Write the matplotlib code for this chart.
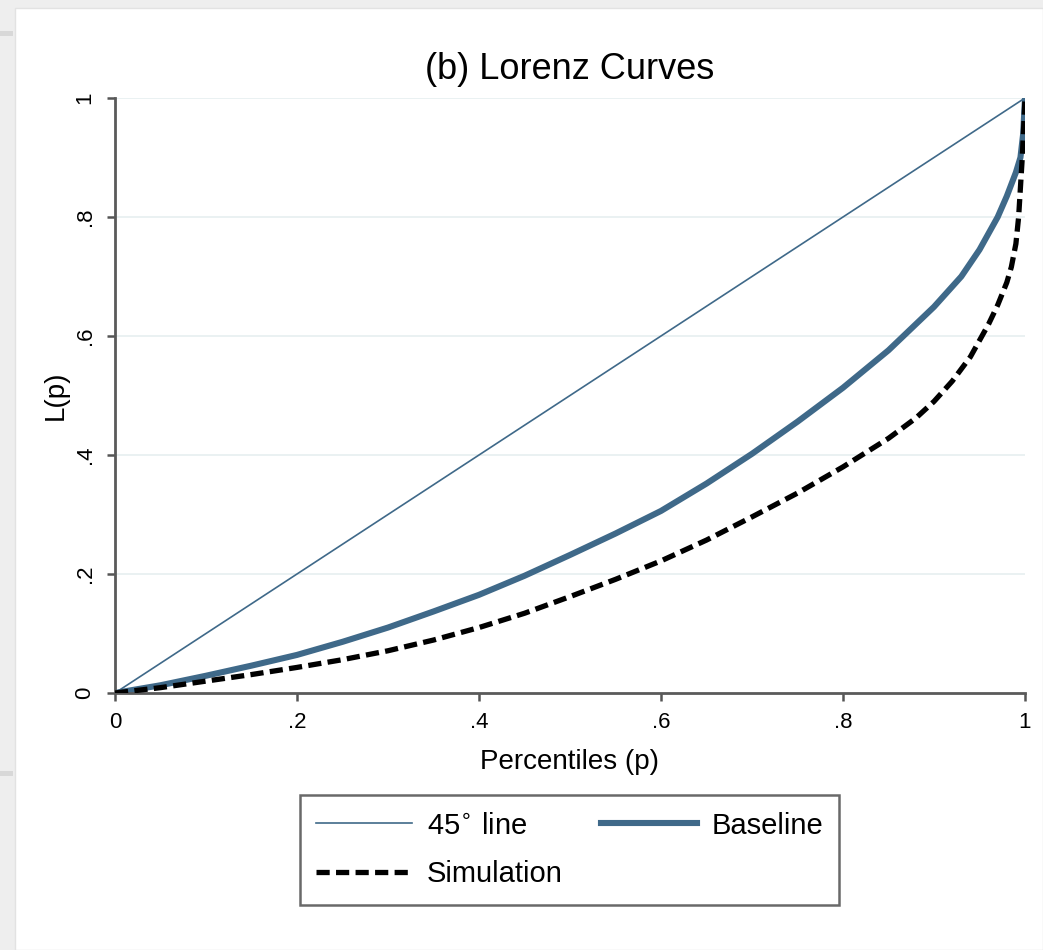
import matplotlib.pyplot as plt
import matplotlib
from matplotlib.patches import Rectangle

matplotlib.rcParams['font.family'] = ['Liberation Sans', 'DejaVu Sans']

# data
p_base = [0, 0.05, 0.1, 0.15, 0.2, 0.25, 0.3, 0.35, 0.4, 0.45, 0.5, 0.55, 0.6, 0.65, 0.7,
          0.75, 0.8, 0.85, 0.9, 0.93, 0.95, 0.97, 0.98, 0.99, 0.995, 0.998, 1.0]
L_base = [0, 0.013, 0.029, 0.046, 0.064, 0.086, 0.110, 0.137, 0.165, 0.197, 0.232, 0.268, 0.306, 0.352, 0.402,
          0.456, 0.513, 0.576, 0.649, 0.700, 0.745, 0.800, 0.835, 0.875, 0.900, 0.940, 1.0]

p_sim = [0, 0.05, 0.1, 0.15, 0.2, 0.25, 0.3, 0.35, 0.4, 0.45, 0.5, 0.55, 0.6, 0.65, 0.7, 0.75, 0.8,
         0.85, 0.88, 0.9, 0.92, 0.94, 0.96, 0.97, 0.98, 0.985, 0.99, 0.993, 0.997, 1.0]
L_sim = [0, 0.009, 0.020, 0.031, 0.043, 0.056, 0.071, 0.089, 0.110, 0.134, 0.162, 0.191, 0.222, 0.257, 0.296, 0.336, 0.380,
         0.428, 0.462, 0.490, 0.524, 0.565, 0.620, 0.652, 0.690, 0.716, 0.755, 0.800, 0.900, 1.0]

ticks = [0, 0.2, 0.4, 0.6, 0.8, 1.0]
tick_labels = ['0', '.2', '.4', '.6', '.8', '1']

blue = '#3f6989'
grid = '#e6eff0'

fig = plt.figure(figsize=(10.43, 9.5), dpi=100)
fig.patch.set_facecolor('#eeeeee')
bg = Rectangle((15/1043, 0), 1 - 15/1043, 1 - 8/950, transform=fig.transFigure,
               facecolor='white', edgecolor='#e2e2e2', lw=1, zorder=-10)
fig.patches.append(bg)
# little grey marks on the left margin
fig.patches.append(Rectangle((0, 1 - 36/950), 13/1043, 5/950, transform=fig.transFigure,
                             facecolor='#d8d8d8', edgecolor='none', zorder=-9))
fig.patches.append(Rectangle((0, 1 - 776/950), 13/1043, 5/950, transform=fig.transFigure,
                             facecolor='#d8d8d8', edgecolor='none', zorder=-9))

ax = fig.add_axes([115/1043, 1 - 693/950, 910/1043, 595/950])
ax.patch.set_alpha(0)
ax.set_xlim(0, 1)
ax.set_ylim(0, 1)

for t in ticks[1:]:
    ax.axhline(t, color=grid, lw=1.2, zorder=0)

ax.plot([0, 1], [0, 1], color=blue, lw=1.2, label='45$^{\\circ}$ line', zorder=3)
ax.plot(p_base, L_base, color=blue, lw=4.4, label='Baseline', solid_joinstyle='round', zorder=2)
ax.plot(p_sim, L_sim, color='black', lw=3.8, ls=(0, (2.5, 1.2)), label='Simulation', zorder=4)

ax.set_xticks(ticks)
ax.set_xticklabels(tick_labels)
ax.set_yticks(ticks)
ax.set_yticklabels(tick_labels, rotation=90, va='center')
ax.tick_params(direction='out', length=6, width=1.8, color='#555555', labelsize=16, pad=8)

for s in ['top', 'right']:
    ax.spines[s].set_visible(False)
for s in ['left', 'bottom']:
    ax.spines[s].set_linewidth(2.0)
    ax.spines[s].set_color('#5a5a5a')

ax.set_xlabel('Percentiles (p)', fontsize=20, labelpad=11)
ax.set_ylabel('L(p)', fontsize=20, labelpad=4)
ax.set_title('(b) Lorenz Curves', fontsize=26, pad=14)

h, l = ax.get_legend_handles_labels()
order = [0, 2, 1]
leg = fig.legend([h[i] for i in order], [l[i] for i in order], ncol=2,
                 loc='center', bbox_to_anchor=(569.5/1043, 1 - 850/950),
                 fontsize=21, frameon=True, fancybox=False, edgecolor='#444444',
                 handlelength=3.3, handletextpad=0.5, columnspacing=1.3,
                 borderpad=0.55, labelspacing=0.72)
leg.get_frame().set_linewidth(1.8)

fig.savefig('out.png', dpi=100, facecolor=fig.get_facecolor())
